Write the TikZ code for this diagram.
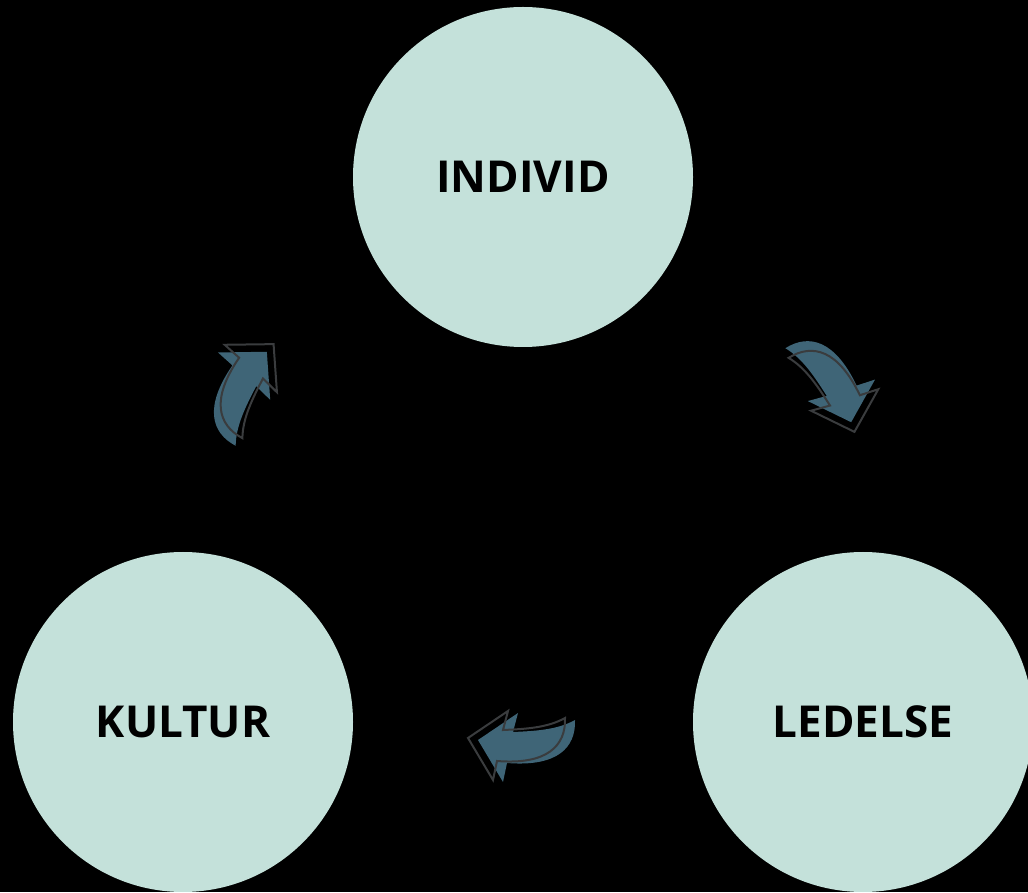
\documentclass[tikz,border=0pt]{standalone}
\usepackage{fontspec}
\setmainfont{Open Sans}
\definecolor{mint}{HTML}{C4E1DA}
\definecolor{arrowblue}{HTML}{3F6577}
\definecolor{arrowedge}{HTML}{3A3C3E}
\tikzset{
  bubble/.style={circle, fill=mint, minimum size=340pt, inner sep=0pt, text=black, font=\fontsize{44}{50}\selectfont\bfseries},
  arrowfill/.style={fill=arrowblue, draw=none},
  arrowline/.style={draw=arrowedge, line width=2pt, line join=miter, fill=none}
}
\newcommand{\curvedarrowshape}{%
  (50,25) .. controls (51,-3) and (32,-22) .. (-18,-18) -- (-22,-37) -- (-47,5) -- (-7,32) -- (-12,13) .. controls (10,14) and (32,15) .. (50,25) -- cycle}
\newcommand{\curvedarrow}[3]{%
  \begin{scope}[shift={(#1,#2)}, rotate=#3]
    \path[arrowfill] \curvedarrowshape;
    \begin{scope}[shift={(-10,2)}]
      \path[arrowline] \curvedarrowshape;
    \end{scope}
  \end{scope}}
\begin{document}
\begin{tikzpicture}[x=1pt,y=1pt]
  \useasboundingbox (0,0) rectangle (1028,892);
  \clip (0,0) rectangle (1028,892);
  \fill[black] (0,0) rectangle (1028,892);
  \node[bubble] (individ) at (523,715) {INDIVID};
  \node[bubble] (kultur) at (183,170) {KULTUR};
  \node[bubble] (ledelse) at (863,170) {LEDELSE};
  \curvedarrow{832}{513}{120}
  \curvedarrow{525}{147}{0}
  \curvedarrow{239}{502}{-120}
\end{tikzpicture}
\end{document}
